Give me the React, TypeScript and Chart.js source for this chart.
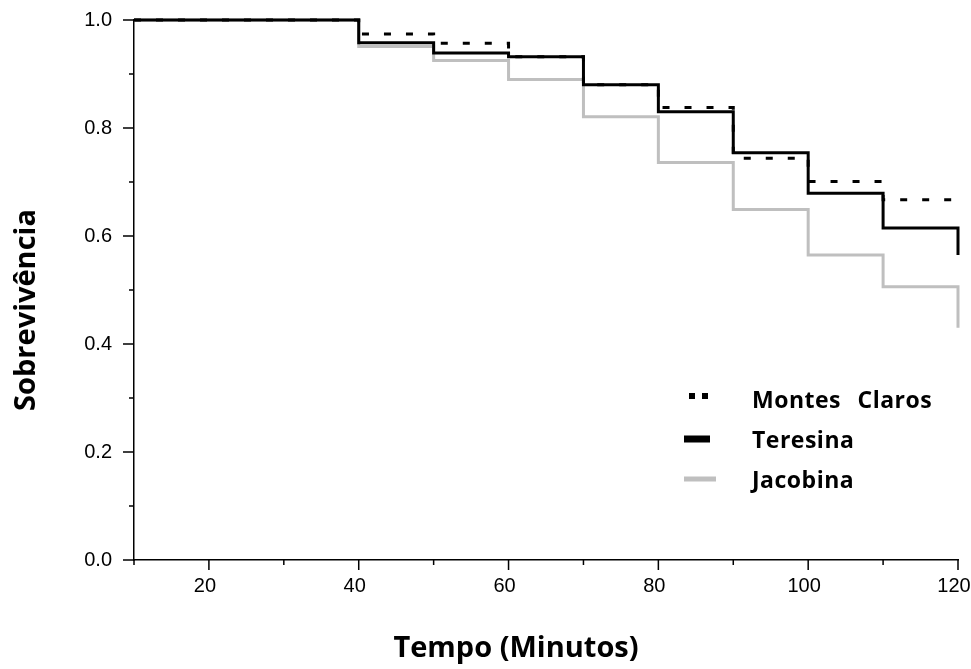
import React, { useEffect, useRef } from "react";
import { Chart, registerables } from "chart.js";

Chart.register(...registerables);

const times = [10, 40, 50, 60, 70, 80, 90, 100, 110, 120];
const montesClaros = [1, 0.974, 0.957, 0.932, 0.88, 0.838, 0.744, 0.701, 0.667, 0.667];
const teresina = [1, 0.958, 0.939, 0.932, 0.88, 0.83, 0.754, 0.679, 0.615, 0.565];
const jacobina = [1, 0.951, 0.925, 0.89, 0.821, 0.736, 0.649, 0.565, 0.506, 0.43];

const seriesNames = ["Montes Claros", "Teresina", "Jacobina"];
const xMajorTicks = [20, 40, 60, 80, 100, 120];
const xMinorTicks = [10, 30, 50, 70, 90, 110];
const yMajorTicks = [0, 0.2, 0.4, 0.6, 0.8, 1.0];
const yMinorTicks = [0.1, 0.3, 0.5, 0.7, 0.9];
const xTitle = "Tempo (Minutos)";
const yTitle = "Sobrevivência";

const GRAY = "#bfbfbf";
const TICK_FONT = "'Liberation Sans', Arial, sans-serif";
const TITLE_FONT = "'Open Sans', sans-serif";

const toPoints = (vals: number[]) => times.map((t, i) => ({ x: t, y: vals[i] }));

const decorPlugin = {
  id: "decor",
  afterDraw(chart: any) {
    const ctx = chart.ctx as CanvasRenderingContext2D;
    const xs = chart.scales.x;
    const ys = chart.scales.y;
    const area = chart.chartArea;
    ctx.save();
    ctx.strokeStyle = "#000";
    ctx.lineWidth = 1.5;
    ctx.beginPath();
    yMajorTicks.forEach((v) => {
      const y = ys.getPixelForValue(v);
      ctx.moveTo(area.left - 11, y);
      ctx.lineTo(area.left, y);
    });
    yMinorTicks.forEach((v) => {
      const y = ys.getPixelForValue(v);
      ctx.moveTo(area.left - 5, y);
      ctx.lineTo(area.left, y);
    });
    xMajorTicks.forEach((v) => {
      const x = xs.getPixelForValue(v);
      ctx.moveTo(x, area.bottom);
      ctx.lineTo(x, area.bottom + 10);
    });
    xMinorTicks.forEach((v) => {
      const x = xs.getPixelForValue(v);
      ctx.moveTo(x, area.bottom);
      ctx.lineTo(x, area.bottom + 5);
    });
    ctx.stroke();

    // axis titles
    ctx.fillStyle = "#000";
    ctx.font = `bold 29px ${TITLE_FONT}`;
    ctx.textAlign = "center";
    ctx.textBaseline = "alphabetic";
    ctx.fillText(xTitle, (area.left + area.right) / 2 - 30, 657);
    ctx.save();
    ctx.translate(35, 310);
    ctx.rotate(-Math.PI / 2);
    ctx.fillText(yTitle, 0, 0);
    ctx.restore();

    // legend
    const lx = area.left + 550;
    const rowY = [399, 439, 479];
    ctx.font = `bold 23px ${TITLE_FONT}`;
    ctx.textAlign = "left";
    ctx.textBaseline = "alphabetic";
    (ctx as any).letterSpacing = "0.5px";
    (ctx as any).wordSpacing = "10px";
    seriesNames.forEach((name, i) => {
      ctx.fillText(name, lx + 68, rowY[i] + 8.5);
    });
    (ctx as any).letterSpacing = "0px";
    (ctx as any).wordSpacing = "0px";
    // samples
    ctx.fillStyle = "#000";
    ctx.fillRect(lx + 5, rowY[0] - 6, 6, 6);
    ctx.fillRect(lx + 18, rowY[0] - 6, 6, 6);
    ctx.fillRect(lx, rowY[1] - 3.5, 26, 7);
    ctx.fillStyle = GRAY;
    ctx.fillRect(lx, rowY[2] - 2.5, 32, 5);
    ctx.restore();
  },
};

export default function App() {
  const canvasRef = useRef<HTMLCanvasElement | null>(null);

  useEffect(() => {
    if (!canvasRef.current) return;
    const chart = new Chart(canvasRef.current, {
      type: "line",
      data: {
        datasets: [
          {
            label: seriesNames[0],
            data: toPoints(montesClaros),
            borderColor: "#000",
            borderWidth: 3,
            borderDash: [7, 15],
            stepped: "before",
            pointRadius: 0,
            fill: false,
            clip: false as any,
          },
          {
            label: seriesNames[1],
            data: toPoints(teresina),
            borderColor: "#000",
            borderWidth: 3,
            stepped: "before",
            pointRadius: 0,
            fill: false,
            clip: false as any,
          },
          {
            label: seriesNames[2],
            data: toPoints(jacobina),
            borderColor: GRAY,
            borderWidth: 3,
            stepped: "before",
            pointRadius: 0,
            fill: false,
            clip: false as any,
          },
        ],
      },
      options: {
        animation: false,
        responsive: true,
        maintainAspectRatio: false,
        layout: { padding: { left: 0, right: 13, top: 20, bottom: 0 } },
        plugins: {
          legend: { display: false },
          tooltip: { enabled: false },
        },
        scales: {
          x: {
            type: "linear",
            min: 10,
            max: 120,
            afterFit: (s: any) => {
              s.height = 109;
              s.paddingLeft = 0;
              s.paddingRight = 0;
            },
            afterBuildTicks: (s: any) => {
              s.ticks = xMajorTicks.map((v) => ({ value: v }));
            },
            grid: { display: false },
            border: { display: true, color: "#000", width: 1.5 },
            ticks: {
              padding: 6,
              labelOffset: -4,
              color: "#000",
              font: { family: TICK_FONT, size: 20 },
              maxRotation: 0,
              autoSkip: false,
              callback: (v: any) => String(v),
            },
          },
          y: {
            type: "linear",
            min: 0,
            max: 1,
            afterFit: (s: any) => {
              s.width = 134;
              s.paddingTop = 0;
              s.paddingBottom = 0;
            },
            afterBuildTicks: (s: any) => {
              s.ticks = yMajorTicks.map((v) => ({ value: v }));
            },
            grid: { display: false },
            border: { display: true, color: "#000", width: 1.5 },
            ticks: {
              padding: 14,
              color: "#000",
              font: { family: TICK_FONT, size: 20 },
              callback: (v: any) => Number(v).toFixed(1),
            },
          },
        },
      },
      plugins: [decorPlugin],
    });
    return () => chart.destroy();
  }, []);

  return (
    <div style={{ position: "absolute", left: 0, top: 0, width: 971, height: 669, background: "#fff" }}>
      <canvas ref={canvasRef} />
    </div>
  );
}
